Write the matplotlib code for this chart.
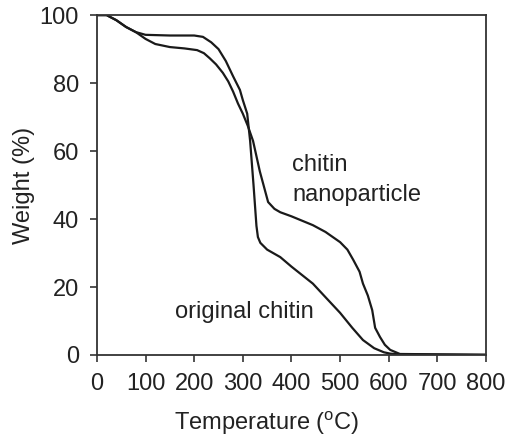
import matplotlib
matplotlib.use('Agg')
import matplotlib.pyplot as plt

plt.rcParams['font.family'] = ['Liberation Sans', 'DejaVu Sans']
plt.rcParams['mathtext.fontset'] = 'custom'
plt.rcParams['mathtext.rm'] = 'Liberation Sans'

# original chitin (sharp drop near 330 C)
t_orig = [0, 20, 40, 60, 80, 100, 150, 200, 218, 235, 250, 265, 280, 294, 300, 309,
          315, 322, 328, 331, 336, 350, 377, 400, 444, 470, 500, 525, 547, 570, 590,
          603, 620, 700, 800]
w_orig = [100, 100, 98.5, 96.5, 95, 94.2, 94, 94, 93.6, 92, 90, 86.5, 82, 78, 75, 71,
          63, 50, 38, 34.7, 33, 31, 28.8, 26, 21, 17, 12.4, 8, 4.4, 2, 0.8,
          0.4, 0.2, 0.1, 0]

# chitin nanoparticle
t_nano = [0, 20, 40, 60, 80, 100, 120, 150, 180, 206, 220, 232, 245, 259, 270, 280,
          290, 300, 310, 321, 335, 352, 365, 377, 400, 444, 470, 500, 515, 527, 540,
          547, 557, 566, 572, 582, 592, 603, 623, 700, 800]
w_nano = [100, 100, 98.5, 96.5, 95, 93, 91.5, 90.6, 90.2, 89.7, 88.8, 87.3, 85.5, 83,
          80.5, 77.5, 74, 71, 67.5, 63, 54, 45, 43, 42, 40.8, 38.2, 36.2, 33.2, 31,
          28, 24.5, 21, 17.5, 13.2, 8, 5.3, 3, 1.5, 0.3, 0.2, 0.1]

xticks = [0, 100, 200, 300, 400, 500, 600, 700, 800]
yticks = [0, 20, 40, 60, 80, 100]

fig = plt.figure(figsize=(5.10, 4.38), dpi=100)
ax = fig.add_axes([0.190, 0.1895, 0.763, 0.776])

lc = '#1a1a1a'
ax.plot(t_orig, w_orig, color=lc, lw=1.6)
ax.plot(t_nano, w_nano, color=lc, lw=1.6)

ax.set_xlim(0, 800)
ax.set_ylim(0, 100)
ax.set_xticks(xticks)
ax.set_yticks(yticks)

tc = '#222222'
fs = 17
ax.tick_params(direction='out', length=5, width=1.2, colors='#333333',
               labelcolor=tc, labelsize=fs, top=False, right=False, pad=8)
for s in ax.spines.values():
    s.set_linewidth(1.3)
    s.set_color('#333333')

ax.set_xlabel('Temperature ($^{\\mathrm{o}}$C)', fontsize=fs, color=tc)
ax.set_ylabel('Weight (%)', fontsize=fs, color=tc)
ax.xaxis.set_label_coords((267 - 97) / 389, -0.158)
ax.yaxis.set_label_coords(-0.16, 0.5)

ax.text(401, 56, 'chitin', fontsize=fs, color=tc, ha='left', va='center')
ax.text(401, 47, 'nanoparticle', fontsize=fs, color=tc, ha='left', va='center')
ax.text(160, 12.6, 'original chitin', fontsize=fs, color=tc, ha='left', va='center')

fig.savefig('out.png', dpi=100)
